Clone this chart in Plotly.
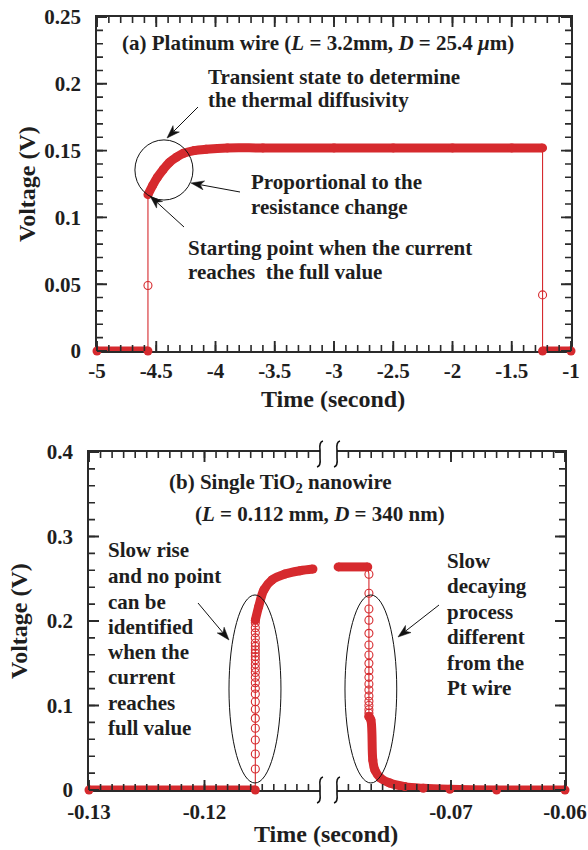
import math
import plotly.graph_objects as go

W, H = 588, 850
SERIF = "Liberation Serif, Times New Roman, serif"
RED = "#d62a2e"
INK = "#1e1e1e"
AX = "#2a2a2a"


def px(x):
    return x / W


def py(y):
    return 1 - y / H


# ---------------- Data: (a) Platinum wire ----------------
a_off1_t = [-5.0, -4.57]
a_off1_v = [0.0, 0.0]
a_on_t = [-4.57, -4.53, -4.49, -4.44, -4.39, -4.33, -4.27, -4.18, -4.08, -3.9, -3.6, -3.0, -2.5, -2.0, -1.5, -1.24]
a_on_v = [0.117, 0.124, 0.130, 0.136, 0.141, 0.145, 0.148, 0.150, 0.151, 0.152, 0.152, 0.152, 0.152, 0.152, 0.152, 0.152]
a_off2_t = [-1.24, -1.0]
a_off2_v = [0.0, 0.0]
a_rise_t = [-4.57, -4.57, -4.57]
a_rise_v = [0.0, 0.049, 0.117]
a_fall_t = [-1.24, -1.24, -1.24]
a_fall_v = [0.152, 0.042, 0.0]
a_open_t = [-4.57, -1.24]
a_open_v = [0.049, 0.042]

a_xticks = [-5, -4.5, -4, -3.5, -3, -2.5, -2, -1.5, -1]
a_xlabels = ["-5", "-4.5", "-4", "-3.5", "-3", "-2.5", "-2", "-1.5", "-1"]
a_yticks = [0, 0.05, 0.1, 0.15, 0.2, 0.25]

# ---------------- Data: (b) Single TiO2 nanowire ----------------
b_off_t = [-0.13, -0.1156]
b_off_v = [0.0, 0.0]
b_rise_circ_t = [-0.1156] * 24
b_rise_circ_v = [0.0248, 0.0426, 0.0592, 0.073, 0.0848, 0.0955, 0.1045, 0.1136, 0.1203, 0.127,
                 0.1333, 0.139, 0.144, 0.149, 0.154, 0.158, 0.162, 0.166, 0.170, 0.174,
                 0.180, 0.186, 0.192, 0.198]
b_rise_curve_t = [-0.11560, -0.11531, -0.11485, -0.11416, -0.11303, -0.11173, -0.11061]
b_rise_curve_v = [0.201, 0.217, 0.237, 0.2485, 0.2556, 0.2595, 0.2615]

b_flat_t = [-0.0799, -0.0773]
b_flat_v = [0.264, 0.264]
b_decay_circ_t = [-0.0772] * 18
b_decay_circ_v = [0.2553, 0.2328, 0.2142, 0.201, 0.1854, 0.1716, 0.1598, 0.1499, 0.1412, 0.1333,
                  0.1254, 0.1183, 0.1112, 0.105, 0.100, 0.095, 0.091, 0.087]
b_decay_curve_t = [-0.0772, -0.07703, -0.07686, -0.07668, -0.07619, -0.07537, -0.07406, -0.07243, -0.0701, -0.066, -0.06]
b_decay_curve_v = [0.087, 0.083, 0.0355, 0.0237, 0.0142, 0.0083, 0.004, 0.002, 0.0008, 0.0, 0.0]

b_left_ticks = [-0.13, -0.12]
b_left_labels = ["-0.13", "-0.12"]
b_right_ticks = [-0.07, -0.06]
b_right_labels = ["-0.07", "-0.06"]
b_yticks = [0, 0.1, 0.2, 0.3, 0.4]

fig = go.Figure()


def thick(x, y, xa, ya, spline=True):
    fig.add_trace(go.Scatter(x=x, y=y, xaxis=xa, yaxis=ya, mode="lines+markers",
                             line=dict(color=RED, width=9, shape="spline" if spline else "linear"),
                             marker=dict(color=RED, size=9, line=dict(width=0)),
                             cliponaxis=False, showlegend=False, hoverinfo="skip"))


def thin(x, y, xa, ya):
    fig.add_trace(go.Scatter(x=x, y=y, xaxis=xa, yaxis=ya, mode="lines",
                             line=dict(color=RED, width=1.1), cliponaxis=False,
                             showlegend=False, hoverinfo="skip"))


def circles(x, y, xa, ya):
    fig.add_trace(go.Scatter(x=x, y=y, xaxis=xa, yaxis=ya, mode="markers",
                             marker=dict(symbol="circle-open", color=RED, size=8, line=dict(width=1.1)),
                             cliponaxis=False, showlegend=False, hoverinfo="skip"))


# panel (a)
thin(a_rise_t, a_rise_v, "x", "y")
thin(a_fall_t, a_fall_v, "x", "y")
circles(a_open_t, a_open_v, "x", "y")
thick(a_off1_t, a_off1_v, "x", "y", False)
thick(a_on_t, a_on_v, "x", "y")
thick(a_off2_t, a_off2_v, "x", "y", False)

# panel (b) left
thin([b_off_t[-1]] + b_rise_circ_t + [b_rise_curve_t[0]], [0.0] + b_rise_circ_v + [b_rise_curve_v[0]], "x2", "y2")
circles(b_rise_circ_t, b_rise_circ_v, "x2", "y2")
thick(b_off_t, b_off_v, "x2", "y2", False)
thick(b_rise_curve_t, b_rise_curve_v, "x2", "y2")
# panel (b) right
thin([b_flat_t[-1]] + b_decay_circ_t, [b_flat_v[-1]] + b_decay_circ_v, "x3", "y3")
circles(b_decay_circ_t, b_decay_circ_v, "x3", "y3")
thick(b_flat_t, b_flat_v, "x3", "y3", False)
thick(b_decay_curve_t, b_decay_curve_v, "x3", "y3")

tickfont = dict(family=SERIF, size=21, color=INK)

# axis frames in pixels: (start, end, value range)
A_X = (97, 571, [-5, -1])
A_Y = (351, 17, [0, 0.25])
B_X2 = (89, 320, [-0.13, -0.11])
B_X3 = (337, 565, [-0.08, -0.06])
B_Y = (790, 452, [0, 0.4])


def axstyle(**kw):
    d = dict(showline=True, linecolor=AX, linewidth=1.5, ticks="", showgrid=False, zeroline=False,
             tickfont=tickfont, layer="below traces")
    d.update(kw)
    return d


fig.update_layout(
    template="none",
    width=W, height=H, margin=dict(l=0, r=0, t=0, b=0),
    paper_bgcolor="white", plot_bgcolor="rgba(0,0,0,0)", showlegend=False,
    font=dict(family=SERIF, color=INK, weight="bold"),
    xaxis=axstyle(domain=[px(A_X[0]), px(A_X[1])], range=A_X[2], anchor="y", mirror=True,
                  tickmode="array", tickvals=a_xticks, ticktext=a_xlabels),
    yaxis=axstyle(domain=[py(A_Y[0]), py(A_Y[1])], range=A_Y[2], anchor="x", mirror=True,
                  tickmode="array", tickvals=a_yticks, ticklabelstandoff=10),
    xaxis2=axstyle(domain=[px(B_X2[0]), px(B_X2[1])], range=B_X2[2], anchor="y2", mirror=True,
                   tickmode="array", tickvals=b_left_ticks, ticktext=b_left_labels, ticklabelstandoff=2),
    yaxis2=axstyle(domain=[py(B_Y[0]), py(B_Y[1])], range=B_Y[2], anchor="x2", side="left", mirror=False,
                   tickmode="array", tickvals=b_yticks, ticklabelstandoff=10),
    xaxis3=axstyle(domain=[px(B_X3[0]), px(B_X3[1])], range=B_X3[2], anchor="y3", mirror=True,
                   tickmode="array", tickvals=b_right_ticks, ticktext=b_right_labels, ticklabelstandoff=2),
    yaxis3=axstyle(domain=[py(B_Y[0]), py(B_Y[1])], range=B_Y[2], anchor="x3", side="right", mirror=False,
                   tickmode="array", tickvals=b_yticks, showticklabels=False),
)

anns = []
shapes = []


# ---- tick marks as paper-space paths (positions follow each axis's range and domain) ----
def lin(frame, v):
    p0, p1, (r0, r1) = frame
    return p0 + (v - r0) / (r1 - r0) * (p1 - p0)


def tick_path(segs, width):
    parts = []
    for (x0, y0, x1, y1) in segs:
        parts.append(f"M {px(x0):.5f},{py(y0):.5f} L {px(x1):.5f},{py(y1):.5f}")
    shapes.append(dict(type="path", xref="paper", yref="paper", path=" ".join(parts),
                       line=dict(color=AX, width=width), layer="above"))


def xtick_segs(xf, yf, vals, ln, top=True, bottom=True):
    segs = []
    yb, yt = yf[0], yf[1]
    for v in vals:
        X = lin(xf, v)
        if bottom:
            segs.append((X, yb, X, yb - ln))
        if top:
            segs.append((X, yt, X, yt + ln))
    return segs


def ytick_segs(xf, yf, vals, ln, left=True, right=True):
    segs = []
    xl, xr = xf[0], xf[1]
    for v in vals:
        Y = lin(yf, v)
        if left:
            segs.append((xl, Y, xl + ln, Y))
        if right:
            segs.append((xr, Y, xr - ln, Y))
    return segs


MAJ, MIN = 10.0, 6.0
a_minor_x = [round(-5 + 0.1 * i, 2) for i in range(41)]
a_minor_y = [round(0.01 * i, 2) for i in range(26)]
b_minor_x2 = [round(-0.13 + 0.001 * i, 4) for i in range(20)]
b_minor_x3 = [round(-0.079 + 0.001 * i, 4) for i in range(20)]
b_minor_y = [round(0.02 * i, 2) for i in range(21)]

# minor ticks
tick_path(xtick_segs(A_X, A_Y, a_minor_x, MIN) + ytick_segs(A_X, A_Y, a_minor_y, MIN)
          + xtick_segs(B_X2, B_Y, b_minor_x2, MIN) + ytick_segs(B_X2, B_Y, b_minor_y, MIN, right=False)
          + xtick_segs(B_X3, B_Y, b_minor_x3, MIN) + ytick_segs(B_X3, B_Y, b_minor_y, MIN, left=False), 1.6)
# major ticks
tick_path(xtick_segs(A_X, A_Y, a_xticks, MAJ) + ytick_segs(A_X, A_Y, a_yticks, MAJ)
          + xtick_segs(B_X2, B_Y, b_left_ticks, MAJ) + ytick_segs(B_X2, B_Y, b_yticks, MAJ, right=False)
          + xtick_segs(B_X3, B_Y, b_right_ticks, MAJ) + ytick_segs(B_X3, B_Y, b_yticks, MAJ, left=False), 1.9)


def text(s, x, y, size=21, anchor="left", angle=0):
    anns.append(dict(text=s, x=px(x), y=py(y), xref="paper", yref="paper", showarrow=False,
                     xanchor=anchor, yanchor="middle", textangle=angle,
                     font=dict(family=SERIF, size=size, color=INK, weight="bold")))


def arrow(hx, hy, tx, ty, hl=13, hw=4.5):
    dx, dy = tx - hx, ty - hy
    L = math.hypot(dx, dy)
    ux, uy = dx / L, dy / L
    nx, ny = -uy, ux
    bx, by = hx + ux * hl, hy + uy * hl
    kx, ky = hx + ux * hl * 0.72, hy + uy * hl * 0.72
    pts = [(hx, hy), (bx + nx * hw, by + ny * hw), (kx, ky), (bx - nx * hw, by - ny * hw)]
    path = "M " + " L ".join(f"{px(a)},{py(b)}" for a, b in pts) + " Z"
    shapes.append(dict(type="path", xref="paper", yref="paper", path=path,
                       fillcolor="#111111", line=dict(color="#111111", width=0.5)))
    shapes.append(dict(type="line", xref="paper", yref="paper", x0=px(kx), y0=py(ky), x1=px(tx), y1=py(ty),
                       line=dict(color="#111111", width=1)))


# panel (a) texts
text("(a) Platinum wire (<i>L</i> = 3.2mm, <i>D</i> = 25.4 <i>μ</i>m)", 318, 43, anchor="center")
text("Transient state to determine", 206, 77)
text("the thermal diffusivity", 206, 100)
text("Proportional to the", 249, 182)
text("resistance change", 249, 207)
text("Starting point when the current", 186, 248)
text("reaches\u00a0 the full value", 186, 272)
text("Voltage (V)", 27, 184, size=24, anchor="center", angle=-90)
text("Time (second)", 333, 399, size=24, anchor="center")
arrow(167, 138, 198, 107)
arrow(191, 183, 240, 192)
arrow(150, 196, 184, 227)

# panel (b) texts
text("(b) Single TiO<sub>2</sub> nanowire", 280, 483, anchor="center")
text("(<i>L</i> = 0.112 mm, <i>D</i> = 340 nm)", 320, 514, anchor="center")
for s, yy in zip(["Slow rise", "and no point", "can be", "identified", "when the", "current", "reaches", "full value"],
                 [550, 576, 602, 627, 652, 677, 703, 728]):
    text(s, 106, yy)
for s, yy in zip(["Slow", "decaying", "process", "different", "from the", "Pt wire"],
                 [561, 586, 612, 637, 663, 688]):
    text(s, 445, yy)
text("Voltage (V)", 19, 621, size=24, anchor="center", angle=-90)
text("Time (second)", 326, 834, size=24, anchor="center")
arrow(229, 640, 198, 603)
arrow(398, 637, 439, 605)

shapes += [
    dict(type="circle", xref="x", yref="y", x0=-4.68, x1=-4.19, y0=0.113, y1=0.158,
         line=dict(color="#111111", width=1)),
    dict(type="circle", xref="x2", yref="y2", x0=-0.11788, x1=-0.11338, y0=0.0083, y1=0.2308,
         line=dict(color="#111111", width=1)),
    dict(type="circle", xref="x3", yref="y3", x0=-0.0793, x1=-0.07476, y0=0.0083, y1=0.2308,
         line=dict(color="#111111", width=1)),
]


def squiggle(cx, cy):
    pts = [(cx + 3, cy - 13), (cx - 1, cy - 12), (cx, cy - 4), (cx, cy + 4), (cx + 1, cy + 12), (cx - 3, cy + 13)]
    p = [(px(a), py(b)) for a, b in pts]
    path = (f"M {p[0][0]},{p[0][1]} Q {p[1][0]},{p[1][1]} {p[2][0]},{p[2][1]} "
            f"L {p[3][0]},{p[3][1]} Q {p[4][0]},{p[4][1]} {p[5][0]},{p[5][1]}")
    return dict(type="path", xref="paper", yref="paper", path=path, line=dict(color="#111111", width=1.6))


for cx in (320, 337):
    for cy in (454, 790):
        shapes.append(squiggle(cx, cy))

fig.update_layout(annotations=anns, shapes=shapes)
fig.write_html("out.html")
